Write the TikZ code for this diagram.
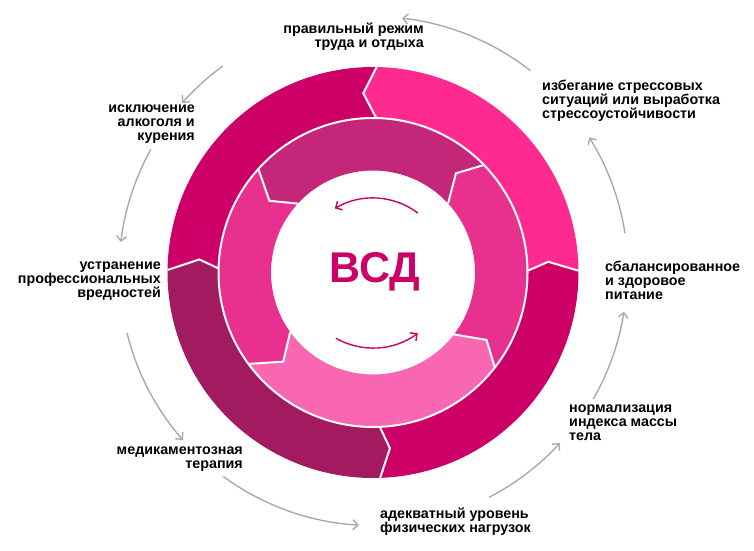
\documentclass[tikz,border=0pt]{standalone}
\usepackage{fontspec}
\setmainfont{Liberation Sans}
\usetikzlibrary{arrows.meta}
\definecolor{cDeep}{HTML}{CC0066}
\definecolor{cBright}{HTML}{FF2A90}
\definecolor{cPurple}{HTML}{A21A5F}
\definecolor{cInTop}{HTML}{C4267A}
\definecolor{cInSide}{HTML}{E8308F}
\definecolor{cInBot}{HTML}{F966B2}
\definecolor{cGray}{HTML}{AAAAAA}
\newcommand\lblfont{\fontsize{14.3}{14}\selectfont\bfseries}
\begin{document}
\begin{tikzpicture}[x=1pt,y=1pt,
  lbl/.style={font=\lblfont, inner sep=0pt, execute at begin node=\strut, execute at end node=\strut},
  lblR/.style={lbl, align=right, anchor=east},
  lblL/.style={lbl, align=left, anchor=west},
  cyc/.style={draw=cGray, line width=1.4pt, -{Straight Barb[length=5pt,width=10pt]}},
  inarr/.style={draw=cDeep, line width=1.4pt, -{Straight Barb[length=5pt,width=10pt]}},
  sep/.style={draw=white, line width=2pt, line join=miter}]
\useasboundingbox (0,-550) rectangle (754,0);
\begin{scope}[shift={(373,-272.5)}]
  % outer boundaries
  \coordinate (TO) at (89:205.5);   \coordinate (TT) at (93.1:179.5); \coordinate (TI) at (88.9:155);
  \coordinate (RO) at (0.5:205.5);  \coordinate (RT) at (3.5:175.6);  \coordinate (RI) at (0.7:155);
  \coordinate (BO) at (-88:205.5);  \coordinate (BT) at (-84.5:176.6); \coordinate (BI) at (-87.4:155);
  \coordinate (LO) at (179.3:205.5); \coordinate (LT) at (175.7:174.2); \coordinate (LI) at (178.4:155);
  % inner boundaries
  \coordinate (ULO) at (138:154);   \coordinate (ULT) at (145.3:126);  \coordinate (ULI) at (137.5:102);
  \coordinate (URO) at (44.2:154);  \coordinate (URT) at (50.1:129.3); \coordinate (URI) at (42.6:102);
  \coordinate (LRO) at (-37.8:154); \coordinate (LRT) at (-30.7:132);  \coordinate (LRI) at (-37.4:102);
  \coordinate (LLO) at (216.4:154); \coordinate (LLT) at (224.8:126.5); \coordinate (LLI) at (215.7:102);
  % outer ring
  \fill[cBright] (RO) arc[start angle=0.5,end angle=89,radius=205.5pt] -- (TT) -- (TI) arc[start angle=88.9,end angle=0.7,radius=155pt] -- (RT) -- cycle;
  \fill[cDeep] (TO) arc[start angle=89,end angle=179.3,radius=205.5pt] -- (LT) -- (LI) arc[start angle=178.4,end angle=88.9,radius=155pt] -- (TT) -- cycle;
  \fill[cPurple] (LO) arc[start angle=179.3,end angle=272,radius=205.5pt] -- (BT) -- (BI) arc[start angle=272.6,end angle=178.4,radius=155pt] -- (LT) -- cycle;
  \fill[cDeep] (BO) arc[start angle=-88,end angle=0.5,radius=205.5pt] -- (RT) -- (RI) arc[start angle=0.7,end angle=-87.4,radius=155pt] -- (BT) -- cycle;
  % inner ring
  \fill[cInTop] (URO) arc[start angle=44.2,end angle=138,radius=154pt] -- (ULT) -- (ULI) arc[start angle=137.5,end angle=42.6,radius=102pt] -- (URT) -- cycle;
  \fill[cInSide] (ULO) arc[start angle=138,end angle=216.4,radius=154pt] -- (LLT) -- (LLI) arc[start angle=215.7,end angle=137.5,radius=102pt] -- (ULT) -- cycle;
  \fill[cInBot] (LLO) arc[start angle=216.4,end angle=322.2,radius=154pt] -- (LRT) -- (LRI) arc[start angle=322.6,end angle=215.7,radius=102pt] -- (LLT) -- cycle;
  \fill[cInSide] (LRO) arc[start angle=-37.8,end angle=44.2,radius=154pt] -- (URT) -- (URI) arc[start angle=42.6,end angle=-37.4,radius=102pt] -- (LRT) -- cycle;
  % separators
  \draw[white, line width=2pt] (0,0) circle[radius=154.5pt];
  \draw[sep] (TO) -- (TT) -- (TI);
  \draw[sep] (RO) -- (RT) -- (RI);
  \draw[sep] (BO) -- (BT) -- (BI);
  \draw[sep] (LO) -- (LT) -- (LI);
  \draw[sep] (ULO) -- (ULT) -- (ULI);
  \draw[sep] (URO) -- (URT) -- (URI);
  \draw[sep] (LRO) -- (LRT) -- (LRI);
  \draw[sep] (LLO) -- (LLT) -- (LLI);
  % centre arrows
  \coordinate (ca1) at (52.9:74.5);
  \coordinate (ca2) at (-119.5:75.5);
  \draw[inarr] (ca1) arc[start angle=52.9,end angle=120.8,radius=74.5pt];
  \draw[inarr] (ca2) arc[start angle=-119.5,end angle=-53.6,radius=75.5pt];
  % cycle arrows
  \coordinate (g1) at (52.1:256);
  \coordinate (g2) at (8.9:255);
  \coordinate (g3) at (-29.9:254);
  \coordinate (g4) at (-62.7:253);
  \coordinate (g5) at (-126.3:253);
  \coordinate (g6) at (193.8:253.3);
  \coordinate (g7) at (151:254);
  \coordinate (g8) at (126:255.3);
  \draw[cyc] (g1) arc[start angle=52.1,end angle=83.5,radius=256pt];
  \draw[cyc] (g2) arc[start angle=8.9,end angle=32,radius=255pt];
  \draw[cyc] (g3) arc[start angle=-29.9,end angle=-8.9,radius=254pt];
  \draw[cyc] (g4) arc[start angle=-62.7,end angle=-42.4,radius=253pt];
  \draw[cyc] (g5) arc[start angle=-126.3,end angle=-93.2,radius=253pt];
  \draw[cyc] (g6) arc[start angle=193.8,end angle=221.4,radius=253.3pt];
  \draw[cyc] (g7) arc[start angle=151,end angle=173.1,radius=254pt];
  \draw[cyc] (g8) arc[start angle=126,end angle=138.4,radius=255.3pt];
\end{scope}
\node[font=\fontsize{43}{43}\selectfont\bfseries, text=cDeep, anchor=base, inner sep=0pt] (vsd) at (375,-282.7) {ВСД};
\node[lblR] (l1) at (424,-37.5) {правильный режим\\труда и отдыха};
\node[lblL] (l8) at (542,-101) {избегание стрессовых\\ситуаций или выработка\\стрессоустойчивости};
\node[lblL] (l7) at (605,-282) {сбалансированное\\и здоровое\\питание};
\node[lblL] (l6) at (569,-425) {нормализация\\индекса массы\\тела};
\node[lblL] (l5) at (380,-522) {адекватный уровень\\физических нагрузок};
\node[lblR] (l4) at (243,-459.5) {медикаментозная\\терапия};
\node[lblR] (l3) at (161,-282) {устранение\\профессиональных\\вредностей};
\node[lblR] (l2) at (195,-125) {исключение\\алкоголя и\\курения};
\end{tikzpicture}
\end{document}
